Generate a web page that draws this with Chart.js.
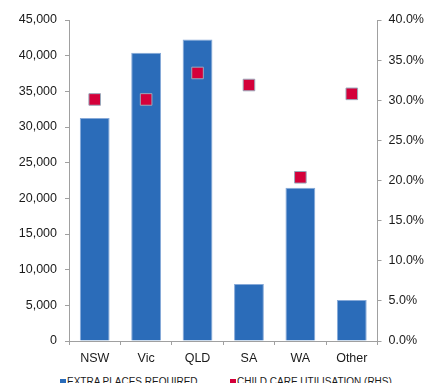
<!DOCTYPE html>
<html>
<head>
<meta charset="utf-8">
<script src="https://cdn.jsdelivr.net/npm/chart.js@4"></script>
<style>
  html, body { margin: 0; padding: 0; background: #fff; overflow: hidden; }
  #wrap { position: relative; width: 440px; height: 372px; }
  #legend { position: absolute; top: 376px; left: 60px; font: 10px "Liberation Sans", Arial, sans-serif; color: #1a1a1a; white-space: nowrap; }
  #legend span.item { position: absolute; top: 0; }
  #legend i { display: inline-block; width: 6px; height: 6px; margin-right: 1px; vertical-align: 0px; }
</style>
</head>
<body>
<div id="wrap"><canvas id="chart"></canvas></div>
<div id="legend"></div>
<script>
const categories = ['NSW', 'Vic', 'QLD', 'SA', 'WA', 'Other'];
const extraPlaces = [31250, 40400, 42250, 8000, 21500, 5750];
const utilisation = [30.1, 30.1, 33.4, 31.9, 20.4, 30.8];
const leftTicks = [0, 45000, 5000];   // min, max, step
const rightTicks = [0, 40, 5];

const barColor = '#2b6cb9';
const dotColor = '#d4003a';
const axisColor = '#a0a0a0';
const font = { family: '"Liberation Sans", Arial, sans-serif', size: 12.5 };

document.addEventListener('DOMContentLoaded', function () {
    const ctx = document.getElementById('chart').getContext('2d');
    const chart = new Chart(ctx, {
        type: 'bar',
        data: {
            labels: categories,
            datasets: [{
                type: 'line',
                label: 'CHILD CARE UTILISATION (RHS)',
                data: utilisation,
                yAxisID: 'y2',
                showLine: false,
                pointStyle: 'rect',
                pointRadius: 8.2,
                pointHoverRadius: 8.2,
                backgroundColor: dotColor,
                borderColor: '#9aa8bb',
                borderWidth: 1,
                order: 0
            }, {
                label: 'EXTRA PLACES REQUIRED',
                data: extraPlaces,
                yAxisID: 'y',
                backgroundColor: barColor,
                borderColor: '#86a9d8',
                borderWidth: 1,
                barPercentage: 0.58,
                categoryPercentage: 1,
                order: 1
            }]
        },
        options: {
            responsive: true,
            maintainAspectRatio: false,
            animation: false,
            layout: { padding: { top: 20, left: 0, right: 0, bottom: 0 } },
            plugins: {
                legend: { display: false },
                tooltip: { enabled: false }
            },
            scales: {
                x: {
                    grid: { display: true, drawOnChartArea: false, drawTicks: true, tickLength: 4, color: axisColor, offset: true },
                    border: { display: true, color: axisColor },
                    ticks: { color: '#1a1a1a', font: font, padding: 6, maxRotation: 0 },
                    afterFit: function (s) { s.height = 31; }
                },
                y: {
                    position: 'left',
                    min: leftTicks[0],
                    max: leftTicks[1],
                    grid: { display: true, drawOnChartArea: false, drawTicks: true, tickLength: 4, color: axisColor },
                    border: { display: true, color: axisColor },
                    ticks: {
                        stepSize: leftTicks[2],
                        color: '#1a1a1a',
                        font: font,
                        padding: 8,
                        callback: v => v.toLocaleString('en-US')
                    },
                    afterFit: function (s) { s.width = 69; }
                },
                y2: {
                    position: 'right',
                    min: rightTicks[0],
                    max: rightTicks[1],
                    grid: { display: true, drawOnChartArea: false, drawTicks: true, tickLength: 4, color: axisColor },
                    border: { display: true, color: axisColor },
                    ticks: {
                        stepSize: rightTicks[2],
                        color: '#1a1a1a',
                        font: font,
                        padding: 7,
                        callback: v => v.toFixed(1) + '%'
                    },
                    afterFit: function (s) { s.width = 62.5; }
                }
            }
        }
    });

    // legend below the chart, built from the datasets
    const legend = document.getElementById('legend');
    const offsets = [0, 170];
    [1, 0].forEach(function (idx, n) {
        const ds = chart.data.datasets[idx];
        const item = document.createElement('span');
        item.className = 'item';
        item.style.left = offsets[n] + 'px';
        item.innerHTML = '<i style="background:' + ds.backgroundColor + '"></i>' + ds.label;
        legend.appendChild(item);
    });
});
</script>
</body>
</html>
